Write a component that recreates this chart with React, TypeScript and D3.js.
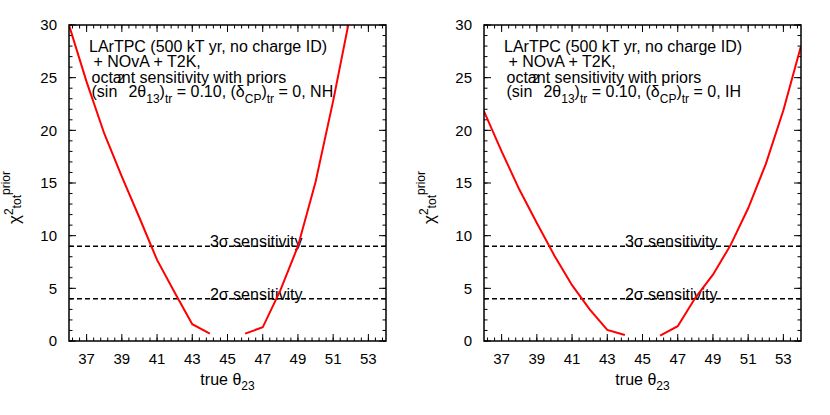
import React from "react";
import * as d3 from "d3";

// true theta_23 grid (degrees)
const thetaLow = [36, 37, 38, 39, 40, 41, 42, 43, 44];
const thetaHighNH = [46, 47, 48, 49, 50, 51, 52];
const thetaHighIH = [46, 47, 48, 49, 50, 51, 52, 53, 54];

// chi^2 (prior) values
const nhLow = [30, 24.6, 19.7, 15.6, 11.7, 7.7, 4.6, 1.6, 0.7];
const nhHigh = [0.7, 1.3, 4.8, 9.0, 15.1, 22.8, 31.2];
const ihLow = [21.8, 18.0, 14.4, 11.2, 8.1, 5.3, 3.0, 1.05, 0.57];
const ihHigh = [0.5, 1.4, 4.1, 6.3, 9.1, 12.6, 16.8, 21.9, 28.0];

const xTicks = [37, 39, 41, 43, 45, 47, 49, 51, 53];
const yTicks = [0, 5, 10, 15, 20, 25, 30];
const sigmaLevels = [9, 4];
const sigmaLabels = ["3σ sensitivity", "2σ sensitivity"];

const FONT = "'Liberation Sans', Arial, Helvetica, sans-serif";
const TOP = 25;
const BOTTOM = 341;
const PW = 317;

type PanelProps = {
  left: number;
  lowY: number[];
  highX: number[];
  highY: number[];
  hierarchy: string;
  id: string;
};

function Panel({ left, lowY, highX, highY, hierarchy, id }: PanelProps) {
  const x = d3.scaleLinear().domain([36, 54]).range([left, left + PW]);
  const y = d3.scaleLinear().domain([0, 30]).range([BOTTOM, TOP]);
  const line = d3
    .line<[number, number]>()
    .x((d) => x(d[0]))
    .y((d) => y(d[1]));

  const lowPath = line(thetaLow.map((t, i) => [t, lowY[i]] as [number, number])) || "";
  const highPath = line(highX.map((t, i) => [t, highY[i]] as [number, number])) || "";

  const minorX = d3.range(0, 45).map((i) => 36.2 + i * 0.4).filter((v) => v < 54);
  const minorY = d3.range(0, 31);

  const tx = left + 20;
  const ax = left - 49; // y title baseline

  return (
    <g fontFamily={FONT} fill="#000">
      <defs>
        <clipPath id={id}>
          <rect x={left} y={TOP} width={PW} height={BOTTOM - TOP} />
        </clipPath>
      </defs>

      {/* minor ticks, all four sides */}
      {minorX.map((v, i) => (
        <g key={"mx" + i} stroke="#000" strokeWidth={1}>
          <line x1={x(v)} x2={x(v)} y1={BOTTOM} y2={BOTTOM - 3.5} />
          <line x1={x(v)} x2={x(v)} y1={TOP} y2={TOP + 3.5} />
        </g>
      ))}
      {minorY.map((v, i) => (
        <g key={"my" + i} stroke="#000" strokeWidth={1}>
          <line x1={left} x2={left + 3.5} y1={y(v)} y2={y(v)} />
          <line x1={left + PW} x2={left + PW - 3.5} y1={y(v)} y2={y(v)} />
        </g>
      ))}
      {/* major ticks */}
      {xTicks.map((v) => (
        <g key={"tx" + v} stroke="#000" strokeWidth={1}>
          <line x1={x(v)} x2={x(v)} y1={BOTTOM} y2={BOTTOM - 7} />
          <line x1={x(v)} x2={x(v)} y1={TOP} y2={TOP + 7} />
        </g>
      ))}
      {yTicks.map((v) => (
        <g key={"ty" + v} stroke="#000" strokeWidth={1}>
          <line x1={left} x2={left + 7} y1={y(v)} y2={y(v)} />
          <line x1={left + PW} x2={left + PW - 7} y1={y(v)} y2={y(v)} />
        </g>
      ))}

      {/* tick labels */}
      {xTicks.map((v) => (
        <text key={"lx" + v} x={x(v)} y={363.5} fontSize={15} textAnchor="middle">
          {v}
        </text>
      ))}
      {yTicks.map((v) => (
        <text key={"ly" + v} x={left - 12} y={y(v) + 5.3} fontSize={15} textAnchor="end">
          {v}
        </text>
      ))}

      {/* sigma lines */}
      {sigmaLevels.map((s, i) => (
        <g key={"s" + s}>
          <line
            x1={left}
            x2={left + PW}
            y1={y(s)}
            y2={y(s)}
            stroke="#000"
            strokeWidth={1.5}
            strokeDasharray="5,3"
          />
          <text x={x(44)} y={y(s) + 1} fontSize={16}>
            {sigmaLabels[i]}
          </text>
        </g>
      ))}

      {/* curves */}
      <g clipPath={`url(#${id})`} fill="none" stroke="#ff0000" strokeWidth={2}>
        <path d={lowPath} />
        <path d={highPath} />
      </g>

      {/* frame */}
      <rect x={left} y={TOP} width={PW} height={BOTTOM - TOP} fill="none" stroke="#000" strokeWidth={1.5} />

      {/* annotation */}
      <text x={tx} y={51.7} fontSize={16}>
        LArTPC (500 kT yr, no charge ID)
      </text>
      <text x={tx} y={66.7} fontSize={16} xmlSpace="preserve">
        {" + NOvA + T2K,"}
      </text>
      <text x={tx + 2.5} y={83.3} fontSize={16}>
        octant sensitivity with priors
      </text>
      <text x={tx + 2.5} y={96.7} fontSize={16} xmlSpace="preserve">
        <tspan>(sin</tspan>
        <tspan fontSize={12} dy={-13.5}>2</tspan>
        <tspan dy={13.5}>{" 2θ"}</tspan>
        <tspan fontSize={12} dy={6}>13</tspan>
        <tspan dy={-6}>)</tspan>
        <tspan fontSize={12} dy={6}>tr</tspan>
        <tspan dy={-6}>{" = 0.10, (δ"}</tspan>
        <tspan fontSize={12} dy={6}>CP</tspan>
        <tspan dy={-6}>)</tspan>
        <tspan fontSize={12} dy={6}>tr</tspan>
        <tspan dy={-6}>{" = 0, " + hierarchy}</tspan>
      </text>

      {/* x title */}
      <text x={left + PW / 2} y={385} fontSize={16} textAnchor="middle">
        <tspan>true θ</tspan>
        <tspan fontSize={12} dy={5}>23</tspan>
      </text>

      {/* y title */}
      <text transform={`translate(${ax},${224}) rotate(-90)`} fontSize={17}>
        <tspan>χ</tspan>
        <tspan fontSize={12} dy={-7}>2</tspan>
        <tspan fontSize={12} dy={8}>{"tot"}</tspan>
        <tspan fontSize={12} dy={-11}>prior</tspan>
      </text>
    </g>
  );
}

export default function App() {
  return (
    <svg
      width={830}
      height={415}
      style={{ position: "absolute", left: 0, top: 0, background: "#fff" }}
    >
      <rect width={830} height={415} fill="#fff" />
      <Panel left={69} lowY={nhLow} highX={thetaHighNH} highY={nhHigh} hierarchy="NH" id="clipNH" />
      <Panel left={484} lowY={ihLow} highX={thetaHighIH} highY={ihHigh} hierarchy="IH" id="clipIH" />
    </svg>
  );
}
